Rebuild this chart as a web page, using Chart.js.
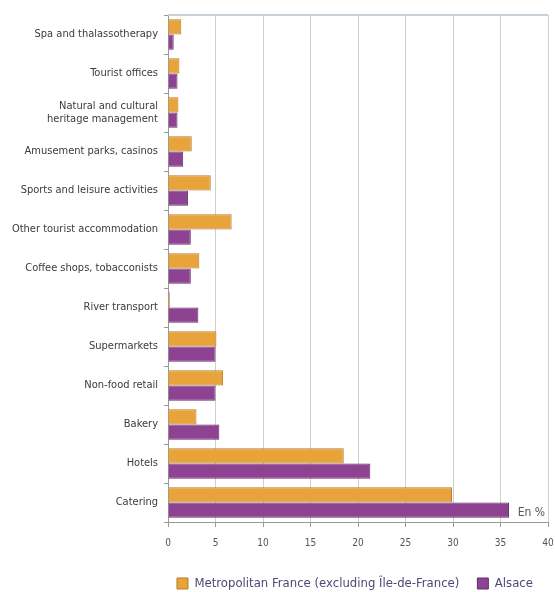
<!DOCTYPE html>
<html><head><meta charset="utf-8">
<script src="https://cdn.jsdelivr.net/npm/chart.js@4/dist/chart.umd.min.js"></script>
<style>html,body{margin:0;padding:0;background:#fff}#wrap{width:555px;height:592px}</style>
</head><body><div id="wrap"><canvas id="c" width="555" height="592"></canvas></div>
<script>
const categories = ["Spa and thalassotherapy","Tourist offices",["Natural and cultural","heritage management"],"Amusement parks, casinos","Sports and leisure activities","Other tourist accommodation","Coffee shops, tobacconists","River transport","Supermarkets","Non-food retail","Bakery","Hotels","Catering"];
const metroFrance = [1.4,1.2,1.1,2.5,4.5,6.7,3.3,0.2,5.1,5.8,3.0,18.5,29.9];
const alsace = [0.6,1.0,1.0,1.6,2.1,2.4,2.4,3.2,5.0,5.0,5.4,21.3,35.9];
const xTicks = [0,5,10,15,20,25,30,35,40];
const seriesNames = ["Metropolitan France (excluding Île-de-France)","Alsace"];

const font = "'DejaVu Sans Condensed', 'Liberation Sans Narrow', sans-serif";
const extras = {
  id:'extras',
  afterDraw(ch){
    const {ctx, chartArea:a} = ch;
    ctx.save();
    ctx.strokeStyle = '#c8d0d8'; ctx.lineWidth = 2;
    ctx.beginPath(); ctx.moveTo(a.left, a.top); ctx.lineTo(a.right, a.top); ctx.stroke();
    ctx.fillStyle = '#555'; ctx.font = "12px " + font; ctx.textAlign='right'; ctx.textBaseline='middle';
    ctx.fillText('En %', a.right - 3, a.bottom - 9);
    ctx.restore();
  }
};
new Chart(document.getElementById('c'), {
  type:'bar',
  data:{labels:categories, datasets:[
    {label:seriesNames[0], data:metroFrance, backgroundColor:'#E9A33B', borderColor:'#B57A2C', borderWidth:1, categoryPercentage:0.78, barPercentage:1.0},
    {label:seriesNames[1], data:alsace, backgroundColor:'#8D4392', borderColor:'#652C6A', borderWidth:1, categoryPercentage:0.78, barPercentage:1.0}
  ]},
  options:{
    indexAxis:'y', responsive:false, animation:false, devicePixelRatio:1,
    layout:{padding:{left:0,right:4,top:15,bottom:-8}},
    plugins:{
      legend:{position:'bottom', align:'end', labels:{boxWidth:11, boxHeight:11, padding:18, color:'#4a4a78', font:{family:font, size:13}}},
      tooltip:{enabled:false}
    },
    scales:{
      x:{min:0,max:40, afterBuildTicks(ax){ax.ticks = xTicks.map(v=>({value:v}));},
        afterFit(ax){ax.height = 37; ax.paddingRight = 7;},
        grid:{color:'#cfcfcf', tickLength:5, drawTicks:true, tickColor:'#999'},
        border:{color:'#999'},
        ticks:{color:'#555', font:{family:font,size:10}, padding:10}},
      y:{grid:{drawOnChartArea:false, offset:true, tickLength:4, tickColor:'#999'},
        border:{color:'#999'},
        afterFit(ax){ax.width = 168;},
        ticks:{color:'#3a3a3a', font:{family:font,size:11}, padding:6, autoSkip:false}}
    }
  },
  plugins:[extras]
});
</script></body></html>
